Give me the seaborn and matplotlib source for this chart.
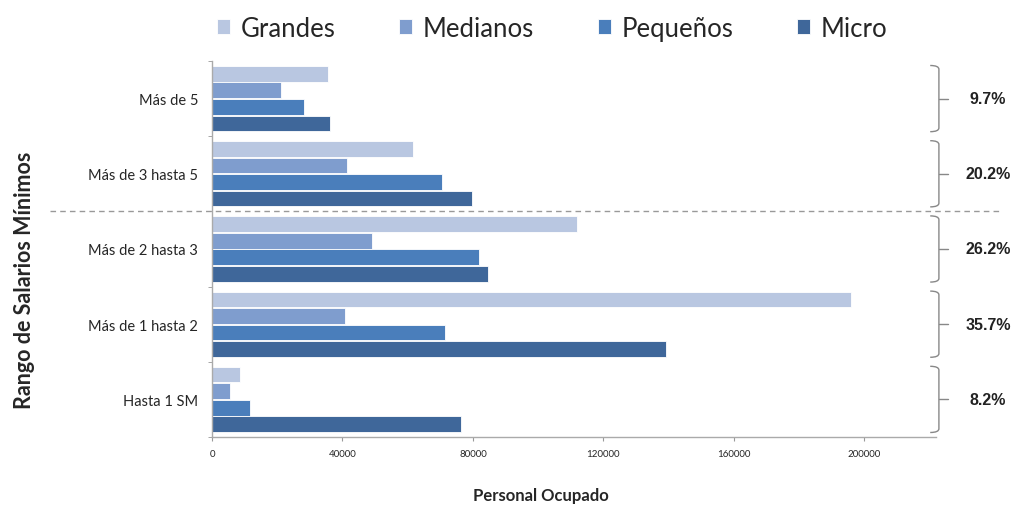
import numpy as np
import pandas as pd
import matplotlib
matplotlib.use('Agg')
from matplotlib import pyplot as plt
from matplotlib.path import Path
from matplotlib.patches import PathPatch
import seaborn as sns

categories = ['Más de 5', 'Más de 3 hasta 5', 'Más de 2 hasta 3', 'Más de 1 hasta 2', 'Hasta 1 SM']
sizes = ['Grandes', 'Medianos', 'Pequeños', 'Micro']
grandes = [35500, 61600, 111900, 195800, 8600]
medianos = [21100, 41400, 49000, 40800, 5500]
pequenos = [28200, 70500, 81800, 71400, 11600]
micro = [36200, 79700, 84600, 139100, 76300]
shares = ['9.7%', '20.2%', '26.2%', '35.7%', '8.2%']
colors = ['#B9C7E1', '#7F9DCE', '#4A7EBB', '#3F679A']

rows = []
for s, vals in zip(sizes, [grandes, medianos, pequenos, micro]):
    for c, v in zip(categories, vals):
        rows.append({'Rango': c, 'Tamaño': s, 'Personal Ocupado': v})
df = pd.DataFrame(rows)

sns.set_style('white')
plt.rcParams['font.family'] = ['Lato', 'DejaVu Sans']

fig = plt.figure(figsize=(10.13, 5.06), dpi=100)
ax = fig.add_axes([0.2093, 0.1344, 0.7147, 0.7431])

sns.barplot(data=df, x='Personal Ocupado', y='Rango', hue='Tamaño', order=categories,
            hue_order=sizes, palette=colors, saturation=1, orient='h', width=0.88, gap=0.05,
            edgecolor='white', linewidth=0.6, ax=ax, legend=True)

ax.set_xlim(0, 222000)
ax.set_ylim(4.5, -0.5)
ax.set_xticks([0, 40000, 80000, 120000, 160000, 200000])
ax.set_xticklabels(['0', '40000', '80000', '120000', '160000', '200000'], fontsize=7)
ax.tick_params(axis='x', length=3, color='#999999', direction='out', pad=6, bottom=True)
ax.tick_params(axis='y', which='major', length=0, labelsize=10.5, pad=10)
ax.set_yticks(np.arange(-0.5, 5, 1), minor=True)
ax.tick_params(axis='y', which='minor', length=3, color='#999999', left=True)
for sp in ['top', 'right']:
    ax.spines[sp].set_visible(False)
for sp in ['left', 'bottom']:
    ax.spines[sp].set_color('#AAAAAA')
    ax.spines[sp].set_linewidth(1)
ax.set_xlabel('')
ax.set_ylabel('')

# legend on top
handles, labels = ax.get_legend_handles_labels()
ax.legend_.remove()
fig.legend(handles, labels, ncol=4, loc='center', bbox_to_anchor=(0.545, 0.942),
           frameon=False, fontsize=18.5, handlelength=0.5, handleheight=0.5,
           handletextpad=0.4, columnspacing=2.5)

# axis titles
fig.text(0.534, 0.02, 'Personal Ocupado', ha='center', va='center',
         fontsize=12, fontweight='bold')
fig.text(0.024, 0.447, 'Rango de Salarios Mínimos', ha='center', va='center',
         rotation=90, fontsize=15.5, fontweight='bold')

# dashed separator
tr = ax.get_yaxis_transform()
ax.plot([-0.224, 1.088], [1.5, 1.5], transform=tr, clip_on=False,
        color='#999999', linestyle=(0, (4, 3)), linewidth=1)

# braces with shares
for i, txt in enumerate(shares):
    top, bot = i - 0.44, i + 0.44
    verts = [(0.992, top), (1.004, top), (1.004, top + 0.05),
             (1.004, i - 0.03), (1.004, i), (1.004, i + 0.03),
             (1.004, bot - 0.05), (1.004, bot), (0.992, bot)]
    codes = [Path.MOVETO, Path.CURVE3, Path.CURVE3,
             Path.LINETO, Path.LINETO, Path.LINETO,
             Path.LINETO, Path.CURVE3, Path.CURVE3]
    ax.add_patch(PathPatch(Path(verts, codes), transform=tr, fill=False,
                           edgecolor='#888888', linewidth=1, clip_on=False))
    ax.plot([1.004, 1.017], [i, i], transform=tr, clip_on=False,
            color='#888888', linewidth=1)
    ax.text(1.072, i, txt, transform=tr, ha='center', va='center',
            fontsize=11.5, fontweight='bold', family=['Liberation Sans', 'DejaVu Sans'],
            color='#222222')

fig.savefig('out.png', dpi=100)
plt.close('all')
